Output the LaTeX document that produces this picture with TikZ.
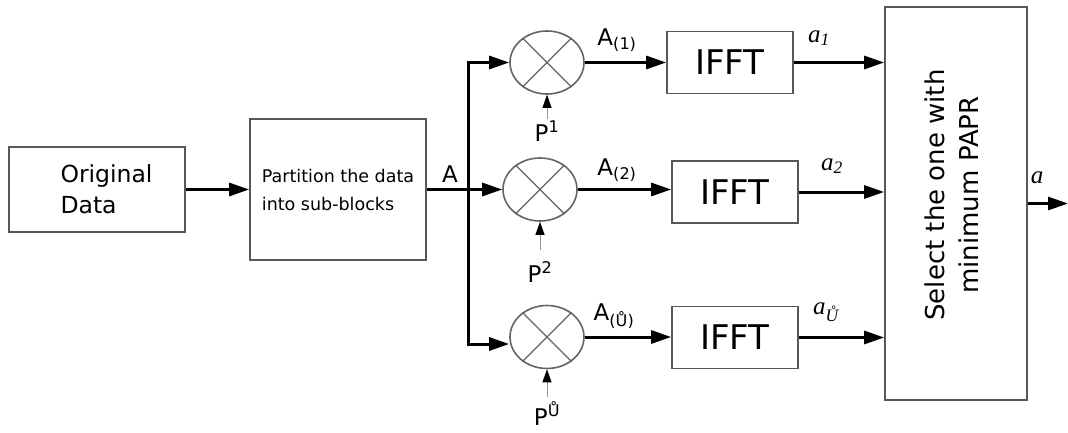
\documentclass[tikz,border=0pt]{standalone}
\usepackage{fontspec}
\setmainfont{DejaVu Sans}
\newfontfamily\serifit{Liberation Serif}
\usepackage{tikz}
\usetikzlibrary{arrows.meta, positioning, calc, shapes.geometric}
\definecolor{boxgray}{RGB}{88,88,88}
\definecolor{ringgray}{RGB}{100,100,100}
\definecolor{pingray}{RGB}{150,150,150}
\newcommand{\fsz}[2]{\fontsize{#1}{#2}\selectfont}

\begin{document}
\begin{tikzpicture}[
    x=1pt, y=-1pt,
    >={Triangle[length=20pt, width=13pt]},
    box/.style={draw=boxgray, line width=1.7pt, inner sep=0pt},
    mixer/.style={ellipse, draw=ringgray, line width=1.6pt, minimum width=74pt, minimum height=63pt, inner sep=0pt},
    sig/.style={->, line width=3pt},
    pin/.style={draw=pingray, line width=0.9pt, -{Triangle[length=13pt, width=9pt, black]}},
    lbl/.style={font=\fsz{23}{26}},
    itl/.style={font=\serifit\itshape\fsz{25}{28}},
]
    \useasboundingbox (0,0) rectangle (1068,433);

    % input blocks
    \node[box, minimum width=176pt, minimum height=85pt] (orig) at (97,189.5) {};
    \node[anchor=west, align=left, font=\fsz{23.5}{31}] (origtxt) at (57,189.5) {Original\\Data};
    \node[box, minimum width=176pt, minimum height=141pt, align=left, font=\fsz{17.5}{28}] (part) at (338,189.5) {Partition the data\\into sub-blocks};
    \node[lbl] (lblA) at (450,174) {A};
    \coordinate (split) at (468,189.5);

    % phase mixers
    \node[mixer] (mix1) at (547,62.5) {};
    \node[mixer] (mix2) at (540,189.5) {};
    \node[mixer] (mix3) at (547,337) {};
    \foreach \m in {mix1,mix2,mix3}{
        \draw[ringgray, line width=1.4pt] (\m.45) -- (\m.225) (\m.135) -- (\m.315);
    }

    % IFFT blocks
    \node[box, minimum width=126pt, minimum height=62pt, font=\fsz{34}{34}] (ifft1) at (730,62.5) {IFFT};
    \node[box, minimum width=126pt, minimum height=62pt, font=\fsz{34}{34}] (ifft2) at (735,192) {IFFT};
    \node[box, minimum width=126pt, minimum height=62pt, font=\fsz{34}{34}] (ifft3) at (735,337.5) {IFFT};

    \node[box, minimum width=142pt, minimum height=393pt] (sel) at (956,203.5) {};
    \node[rotate=90, align=center, font=\fsz{26}{34}] (seltxt) at (952,195) {Select the one with\\minimum PAPR};
    \coordinate (out) at (1068,203.5);

    % phase sequences
    \node[lbl, inner sep=1pt] (p1) at (547,131) {P\textsuperscript{1}};
    \node[lbl, inner sep=1pt] (p2) at (540,272) {P\textsuperscript{2}};
    \node[lbl, inner sep=1pt] (p3) at (547,414) {P\textsuperscript{Ů}};

    % labels
    \node[lbl] (lblA1) at (617,40) {A\textsubscript{(1)}};
    \node[lbl] (lblA2) at (617,170) {A\textsubscript{(2)}};
    \node[lbl] (lblA3) at (614,316) {A\textsubscript{(Ů)}};
    \node[itl] (lbla1) at (819,38) {a\textsubscript{1}};
    \node[itl] (lbla2) at (832,166) {a\textsubscript{2}};
    \node[itl] (lbla3) at (826,312) {a\textsubscript{Ů}};
    \node[itl] (lbla) at (1037,178) {a};

    % connections
    \draw[sig] (orig) -- (part);
    \draw[sig] (part.east) -- (mix2.west);
    \draw[sig] (split) |- (mix1.west);
    \draw[sig] (split) |- ($(mix3.west)+(0,7)$);
    \draw[sig] (mix1) -- (ifft1);
    \draw[sig] (mix2.east) -- (mix2.east -| ifft2.west);
    \draw[sig] (mix3) -- (mix3 -| ifft3.west);
    \draw[sig] (ifft1) -- (ifft1 -| sel.west);
    \draw[sig] (ifft2) -- (ifft2 -| sel.west);
    \draw[sig] (ifft3) -- (ifft3 -| sel.west);
    \draw[sig] (sel.east |- out) -- (out);

    \draw[pin] (p1.north) -- (mix1.south);
    \draw[pin, shorten <=10pt] (p2.north) -- (mix2.south);
    \draw[pin, shorten <=4pt] (p3.north) -- (mix3.south);
\end{tikzpicture}
\end{document}
